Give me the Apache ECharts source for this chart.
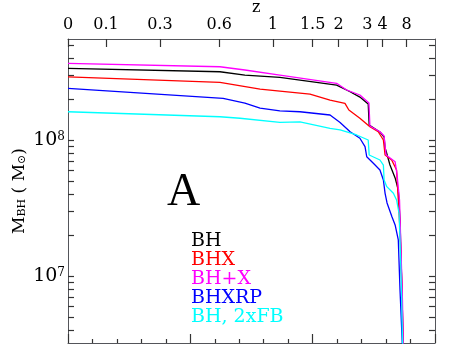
<!DOCTYPE html>
<html>
<head>
<meta charset="utf-8">
<script src="https://cdn.jsdelivr.net/npm/echarts@6/dist/echarts.min.js"></script>
<style>
  html, body { margin: 0; padding: 0; background: #fff; }
  #chart { width: 463px; height: 346px; }
</style>
</head>
<body>
<div id="chart"></div>
<script>
// redshift ticks on the top axis, placed at their lookback time (Gyr)
const zLabels = ["0", "0.1", "0.3", "0.6", "1", "1.5", "2", "3", "4", "8"];
const zTimes = [0, 1.55, 3.76, 6.18, 8.37, 10.0, 11.06, 12.23, 12.86, 13.84];

// y tick labels (powers of ten)
const yMajor = [7, 8];

// [lookback time Gyr, log10 M_BH]
const bh = [
  [0, 8.527], [6.21, 8.502], [7.23, 8.478], [8.66, 8.461], [10.98, 8.404],
  [11.53, 8.355], [11.93, 8.316], [12.27, 8.265], [12.31, 8.11], [12.75, 8.059],
  [12.92, 8.022], [12.96, 7.941], [13.0, 7.919], [13.16, 7.816], [13.37, 7.721],
  [13.5, 7.632], [13.57, 7.412], [13.65, 6.897], [13.71, 6.382]
];
const bhx = [
  [0, 8.465], [6.21, 8.424], [7.85, 8.375], [8.66, 8.36], [9.89, 8.338],
  [10.71, 8.294], [11.32, 8.27], [11.48, 8.221], [11.93, 8.16], [12.34, 8.098],
  [12.68, 8.061], [12.89, 8.0], [12.96, 7.89], [13.23, 7.853], [13.43, 7.779],
  [13.5, 7.559], [13.57, 7.338], [13.65, 6.897], [13.71, 6.382]
];
const bhPlusX = [
  [0, 8.564], [6.21, 8.539], [7.23, 8.515], [8.66, 8.478], [10.98, 8.417],
  [11.39, 8.368], [11.93, 8.331], [12.3, 8.272], [12.34, 8.103], [12.75, 8.061],
  [12.92, 8.029], [13.0, 7.89], [13.37, 7.84], [13.45, 7.743], [13.55, 7.559],
  [13.61, 7.191], [13.67, 6.824], [13.71, 6.382]
];
const bhxrp = [
  [0, 8.38], [6.34, 8.307], [7.23, 8.272], [7.85, 8.235], [8.66, 8.215],
  [9.48, 8.208], [10.71, 8.184], [11.12, 8.129], [11.53, 8.061], [11.93, 8.013],
  [12.14, 7.951], [12.21, 7.877], [12.48, 7.829], [12.75, 7.779], [12.89, 7.706],
  [12.96, 7.608], [13.04, 7.537], [13.24, 7.436], [13.37, 7.375], [13.5, 7.265],
  [13.57, 6.897], [13.64, 6.603], [13.69, 6.382]
];
const bh2xfb = [
  [0, 8.208], [6.21, 8.171], [7.03, 8.16], [8.66, 8.13], [9.48, 8.133],
  [10.71, 8.086], [11.12, 8.074], [11.8, 8.037], [12.27, 8.0], [12.31, 7.89],
  [12.75, 7.853], [12.89, 7.816], [12.92, 7.706], [13.03, 7.657], [13.3, 7.608],
  [13.43, 7.559], [13.53, 7.463], [13.57, 7.265], [13.63, 6.897], [13.69, 6.382]
];

const seriesNames = ["BH", "BHX", "BH+X", "BHXRP", "BH, 2xFB"];
const seriesData = [bh, bhx, bhPlusX, bhxrp, bh2xfb];
const seriesColors = ["#000000", "#ff0000", "#ff00ff", "#0000ff", "#00ffff"];

const yMin = 6.507;
const yMax = 8.743;
const font = "DejaVu Serif";

// all log ticks (decades + minor)
const yTicks = [];
for (let n = 6; n <= 8; n++) {
  for (let k = 1; k <= 9; k++) {
    const v = n + Math.log10(k);
    if (v > yMin && v < yMax) yTicks.push(v);
  }
}

const chart = echarts.init(document.getElementById("chart"));

function yAxis(pos, labels) {
  return {
    type: "value",
    position: pos,
    min: yMin,
    max: yMax,
    splitLine: { show: false },
    axisLine: { show: true, onZero: false },
    axisTick: {
      show: true,
      inside: true,
      length: 6,
      customValues: yTicks,
      lineStyle: { color: "#333", width: 1.2 },
    },
    axisLabel: {
      show: labels,
      customValues: yMajor,
      margin: 3,
      formatter: function (v) {
        return "{b|10}{s|" + Math.round(v) + "}";
      },
      rich: {
        b: { fontFamily: font, fontSize: 19, color: "#000" },
        s: { fontFamily: font, fontSize: 12, color: "#000", verticalAlign: "top" },
      },
    },
  };
}

const legendText = seriesNames.map(function (n, i) {
  return {
    type: "text",
    left: 191,
    top: 232 + i * 19,
    style: { text: n, fontFamily: font, fontSize: 19, fill: seriesColors[i] },
  };
});

const option = {
  animation: false,
  grid: { left: 68, right: 28, top: 39, bottom: 3, outerBoundsMode: "none" },
  xAxis: [
    {
      type: "value",
      position: "bottom",
      min: 0,
      max: 15,
      interval: 5,
      splitLine: { show: false },
      axisLine: { show: true, onZero: false },
      axisTick: { show: true, inside: true, length: 9, lineStyle: { color: "#333", width: 1.2 } },
      minorTick: { show: true, splitNumber: 5, length: 4, lineStyle: { color: "#333", width: 1.2 } },
      axisLabel: { show: false },
    },
    {
      type: "value",
      position: "top",
      min: 0,
      max: 15,
      splitLine: { show: false },
      axisLine: { show: true, onZero: false },
      axisTick: {
        show: true,
        inside: true,
        length: 8,
        customValues: zTimes,
        lineStyle: { color: "#333", width: 1.2 },
      },
      axisLabel: {
        show: true,
        customValues: zTimes,
        margin: 6,
        fontFamily: font,
        fontSize: 16,
        color: "#000",
        formatter: function (v) {
          const i = zTimes.findIndex(function (t) { return Math.abs(t - v) < 1e-6; });
          return i >= 0 ? zLabels[i] : "";
        },
      },
    },
  ],
  yAxis: [
    Object.assign(yAxis("left", true), {
      name: "{m|M}{sub|BH}{m| ( M}{sub|⊙}{m|)}",
      nameLocation: "middle",
      nameRotate: 90,
      nameGap: 40,
      nameMoveOverlap: false,
      nameTextStyle: {
        rich: {
          m: { fontFamily: font, fontSize: 17, color: "#000" },
          sub: { fontFamily: font, fontSize: 11, color: "#000", verticalAlign: "bottom" },
        },
      },
    }),
    yAxis("right", false),
  ],
  graphic: [
    {
      type: "text",
      left: 252,
      top: 0,
      style: { text: "z", fontFamily: font, fontSize: 16, fill: "#000" },
    },
    {
      type: "text",
      left: 167,
      top: 170,
      style: { text: "A", fontFamily: "Liberation Serif", fontSize: 46, fill: "#000" },
    },
  ].concat(legendText),
  series: seriesData.map(function (d, i) {
    return {
      name: seriesNames[i],
      type: "line",
      xAxisIndex: 0,
      yAxisIndex: 0,
      data: d,
      showSymbol: false,
      clip: true,
      color: seriesColors[i],
      lineStyle: { width: 1.3, color: seriesColors[i] },
    };
  }),
};

chart.setOption(option);
</script>
</body>
</html>
